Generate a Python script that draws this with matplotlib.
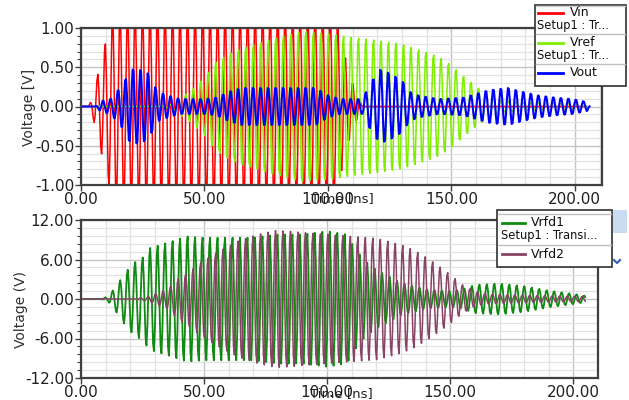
import numpy as np
import matplotlib
matplotlib.use("Agg")
import matplotlib.pyplot as plt
from matplotlib.lines import Line2D
from matplotlib.patches import Rectangle
from matplotlib.ticker import MultipleLocator, FormatStrFormatter

plt.rcParams['font.family'] = ['DejaVu Sans']

# ---------------- data (envelopes) ----------------
PERIOD_NS = 3.04          # carrier period of all traces (ns)
STEP_NS = 0.38            # simulator output step

vin_t = [0, 3, 4.5, 7, 10, 13, 103, 106, 109, 112, 114, 205]
vin_a = [0, 0, 0.1, 0.45, 0.85, 1.25, 1.25, 0.8, 0.4, 0.15, 0, 0]

vref_t = [0, 33, 37, 40, 45, 50, 55, 60, 65, 70, 80, 90, 100, 110, 120, 130,
          140, 145, 150, 155, 160, 165, 170, 180, 200, 205]
vref_a = [0, 0, 0.03, 0.1, 0.22, 0.38, 0.6, 0.7, 0.77, 0.82, 0.92, 1.0, 0.97,
          0.92, 0.88, 0.83, 0.72, 0.66, 0.55, 0.4, 0.27, 0.15, 0.08, 0.05, 0.04, 0]

vout_t = [0, 6, 8, 12, 17, 20, 23.5, 27, 31, 35, 40, 50, 55, 60, 65, 95, 100,
          105, 114, 117, 121, 125, 130, 133, 136.5, 145, 155, 165, 173, 178.5,
          185, 192, 199, 205, 206]
vout_a = [0, 0, 0.07, 0.1, 0.3, 0.5, 0.5, 0.45, 0.2, 0.15, 0.1, 0.1, 0.12, 0.2,
          0.25, 0.25, 0.15, 0.1, 0.1, 0.3, 0.5, 0.45, 0.35, 0.2, 0.15, 0.1, 0.12,
          0.22, 0.25, 0.2, 0.15, 0.12, 0.1, 0.06, 0]

vrfd1_t = [0, 8, 11, 13.3, 15.4, 18, 21.5, 25, 28, 35, 43, 50, 60, 70, 80, 90,
           100, 108, 111, 115, 120, 125, 130, 140, 150, 155, 160, 170, 180, 190,
           200, 205]
vrfd1_a = [0, 0, 0.4, 1.5, 2.6, 4.1, 5.6, 6.4, 7.9, 8.7, 9.7, 9.5, 9.5, 9.5, 10,
           10, 10.5, 10, 8, 6, 4.5, 3.5, 2.5, 1.5, 1.2, 1.5, 2.2, 2.4, 2, 1.3,
           0.8, 0.5]

vrfd2_t = [0, 20, 27, 30, 35, 40, 45, 48, 56, 64, 72, 79, 85, 90, 100, 110, 120,
           130, 135, 140, 145, 150, 155, 160, 165, 170, 180, 190, 205]
vrfd2_a = [0, 0, 0.3, 0.8, 1.5, 3.3, 4.5, 5.5, 7.4, 9, 10, 10.6, 10.5, 10.3, 10,
           9.7, 9.4, 8.4, 7.6, 6.5, 5.2, 3.8, 2.2, 1.2, 0.8, 0.7, 0.6, 0.5, 0.4]

top_yticks = [-1.0, -0.5, 0.0, 0.5, 1.0]
bot_yticks = [-12, -6, 0, 6, 12]
xticks = [0, 50, 100, 150, 200]

W, H = 629, 400


def fx(x):
    return x / W


def fy(y):
    return 1 - y / H


def trace(ts, amps, phase=0.0):
    t = np.arange(ts[0], ts[-1], STEP_NS)
    env = np.interp(t, ts, amps)
    return t, env * np.sin(2 * np.pi * t / PERIOD_NS + phase)


fig = plt.figure(figsize=(W / 100, H / 100), dpi=100)
fig.patch.set_facecolor('white')

ax1 = fig.add_axes([fx(81), fy(185), fx(602) - fx(81), fy(28) - fy(185)])
ax2 = fig.add_axes([fx(81), fy(378), fx(598) - fx(81), fy(220) - fy(378)])

t, y = trace(vin_t, vin_a, 0.3)
ax1.plot(t, y, color='#ff0000', lw=1.1)
t, y = trace(vref_t, vref_a, 0.3 + np.pi / 2)
ax1.plot(t, y, color='#80ee00', lw=1.1)
t, y = trace(vout_t, vout_a, 2.0)
ax1.plot(t, y, color='#0000ff', lw=1.5)

t, y = trace(vrfd1_t, vrfd1_a, 0.2)
ax2.plot(t, y, color='#108a10', lw=1.3)
t, y = trace(vrfd2_t, vrfd2_a, 0.2 + np.pi / 2)
ax2.plot(t, y, color='#884466', lw=1.1)

for ax, xmax, ylim, yt, ymin_step in [
        (ax1, 211, (-1, 1), top_yticks, 0.1),
        (ax2, 210, (-12, 12), bot_yticks, 1.2)]:
    ax.set_xlim(0, xmax)
    ax.set_ylim(*ylim)
    ax.set_xticks(xticks)
    ax.set_yticks(yt)
    ax.xaxis.set_minor_locator(MultipleLocator(10))
    ax.yaxis.set_minor_locator(MultipleLocator(ymin_step))
    ax.xaxis.set_major_formatter(FormatStrFormatter('%.2f'))
    ax.yaxis.set_major_formatter(FormatStrFormatter('%.2f'))
    ax.grid(which='major', color='#c4c4c4', lw=1.0)
    ax.grid(which='minor', color='#e2e2e2', lw=0.9)
    ax.set_axisbelow(True)
    for s in ax.spines.values():
        s.set_color('#404040')
        s.set_linewidth(1.6)
    ax.tick_params(which='major', direction='out', length=4, width=1,
                   color='#404040', labelsize=11, labelcolor='#202020', pad=1)
    ax.tick_params(which='minor', direction='out', length=3, width=0.8,
                   color='#404040')
    ax.tick_params(axis='x', which='minor', length=0)

fig.text(fx(342), fy(199), 'Time [ns]', ha='center', va='center',
         fontsize=9.5, color='#202020')
fig.text(fx(341), fy(394), 'Time [ns]', ha='center', va='center',
         fontsize=9.5, color='#202020')
fig.text(fx(29), fy(107), 'Voltage [V]', ha='center', va='center',
         rotation=90, fontsize=10, color='#303030')
fig.text(fx(21), fy(310), 'Voltage (V)', ha='center', va='center',
         rotation=90, fontsize=10, color='#303030')


# ---------------- legends drawn as boxes ----------------
def box(x0, y0, x1, y1):
    r = Rectangle((fx(x0), fy(y1)), fx(x1) - fx(x0), fy(y0) - fy(y1),
                  transform=fig.transFigure, facecolor='white',
                  edgecolor='#303030', lw=1.2, zorder=10)
    fig.add_artist(r)


def hline(x0, x1, y, color, lw):
    fig.add_artist(Line2D([fx(x0), fx(x1)], [fy(y), fy(y)], color=color,
                          lw=lw, transform=fig.transFigure, zorder=11))


def label(x, y, s, size=9):
    fig.text(fx(x), fy(y), s, ha='left', va='center', fontsize=size,
             color='#101010', zorder=12)


# top legend
box(535, 5, 626, 86)
hline(536, 625, 6, '#d0d0d0', 1.0)
hline(538, 563, 13, '#ff0000', 2)
label(570, 13, 'Vin')
label(537, 26, 'Setup1 : Tr...', 8.3)
hline(536, 625, 34, '#c0c0c0', 1.0)
hline(538, 563, 43, '#80ee00', 2)
label(570, 43, 'Vref')
label(537, 55, 'Setup1 : Tr...', 8.3)
hline(536, 625, 64, '#c0c0c0', 1.0)
hline(538, 563, 73, '#0000ff', 2)
label(570, 73, 'Vout')

# bottom legend
box(497, 210, 612, 267)
hline(498, 611, 214, '#c0c0c0', 1.0)
hline(502, 525, 223, '#108a10', 2)
label(531, 223, 'Vrfd1')
label(501, 235, 'Setup1 : Transi...', 8.3)
hline(498, 611, 245, '#c0c0c0', 1.0)
hline(502, 525, 254, '#884466', 2)
label(531, 254, 'Vrfd2')

# scrollbar remnants at the right edge
sb = Rectangle((fx(613), fy(233)), fx(627) - fx(613), fy(210) - fy(233),
               transform=fig.transFigure, facecolor='#c9dcf2',
               edgecolor='none', zorder=10)
fig.add_artist(sb)
fig.add_artist(Line2D([fx(614), fx(617), fx(620)], [fy(260), fy(263), fy(260)],
                      color='#2a5fb0', lw=1.5, transform=fig.transFigure,
                      zorder=11))

fig.savefig('out.png', dpi=100, facecolor='white')
